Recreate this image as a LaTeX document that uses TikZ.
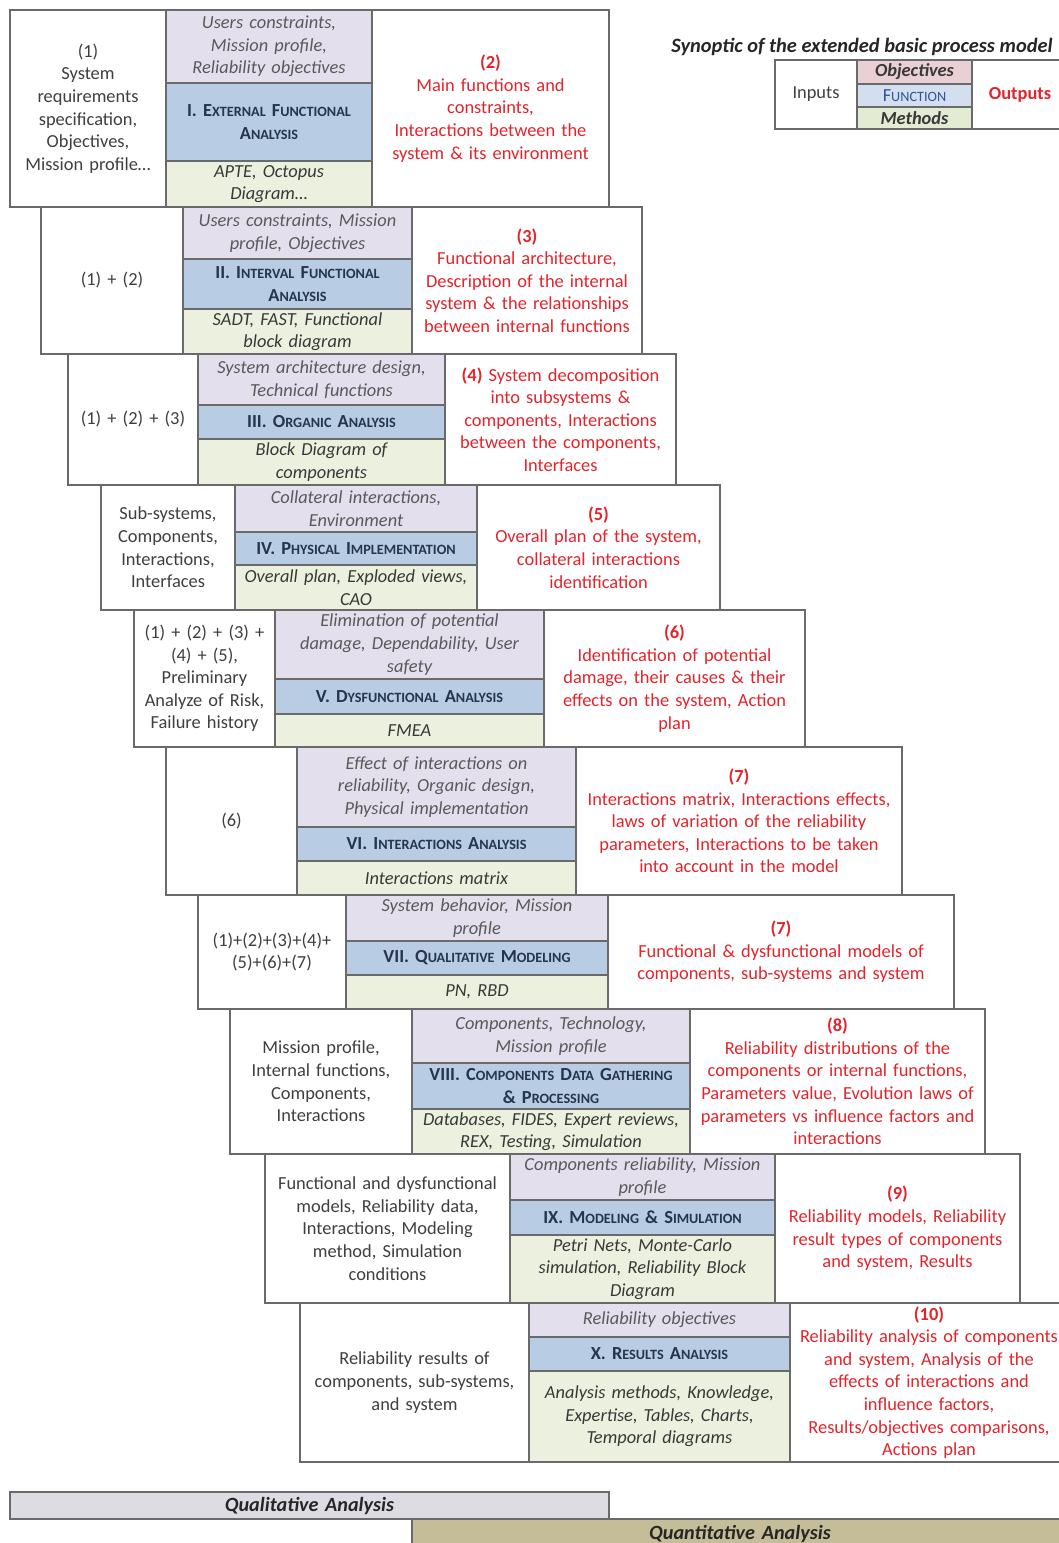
\documentclass[tikz,border=0pt]{standalone}
\usepackage{fontspec}
\setmainfont{Carlito}
\usepackage{tikz}

\definecolor{objfill}{HTML}{E4DFEC}
\definecolor{funcfill}{HTML}{B8CCE4}
\definecolor{methfill}{HTML}{EBF1DE}
\definecolor{legobjfill}{HTML}{E8D0D4}
\definecolor{legfuncfill}{HTML}{D3DFEE}
\definecolor{legmethfill}{HTML}{E3EBD3}
\definecolor{qualfill}{HTML}{DCDCE2}
\definecolor{quantfill}{HTML}{C4BD97}
\definecolor{gridgrey}{HTML}{6A6A6A}
\definecolor{ingrey}{HTML}{3F3F3F}
\definecolor{objgrey}{HTML}{595959}
\definecolor{methgrey}{HTML}{383838}
\definecolor{funcnavy}{HTML}{25344F}
\definecolor{legblue}{HTML}{2F5597}
\definecolor{outred}{HTML}{E3242B}

\def\px{0.5pt}
\def\thickness{0.8pt}
\def\bodysize{\fontsize{9.2}{11.3}\selectfont}
\def\sm#1{{\fontsize{7.1}{11.3}\selectfont\uppercase{#1}}}

\tikzstyle{cellbase}=[draw=gridgrey, line width=\thickness, inner sep=0pt, outer sep=0pt, align=center]
\tikzstyle{inbox}=[cellbase, fill=white, text=ingrey, font=\bodysize]
\tikzstyle{objbox}=[cellbase, fill=objfill, text=objgrey, font=\bodysize\itshape]
\tikzstyle{funcbox}=[cellbase, fill=funcfill, text=funcnavy, font=\bodysize\bfseries]
\tikzstyle{methbox}=[cellbase, fill=methfill, text=methgrey, font=\bodysize\itshape]
\tikzstyle{outbox}=[cellbase, fill=white, text=outred, font=\bodysize]
\tikzstyle{legobj}=[cellbase, fill=legobjfill, text=methgrey, font=\bodysize\bfseries\itshape]
\tikzstyle{legfunc}=[cellbase, fill=legfuncfill, text=legblue, font=\bodysize]
\tikzstyle{legmeth}=[cellbase, fill=legmethfill, text=methgrey, font=\bodysize\bfseries\itshape]
\tikzstyle{legout}=[cellbase, fill=white, text=outred, font=\bodysize\bfseries]
\tikzstyle{qualbar}=[cellbase, fill=qualfill, text=black!85, font=\fontsize{10.1}{12}\selectfont\bfseries\itshape]
\tikzstyle{quantbar}=[cellbase, fill=quantfill, text=black!85, font=\fontsize{10.1}{12}\selectfont\bfseries\itshape]
\tikzstyle{titletext}=[inner sep=0pt, text=black!85, font=\fontsize{10.2}{12}\selectfont\bfseries\itshape]

\newcommand{\cellnode}[7]{%
  \node[#1, minimum width={(#5-#3)*\px}, minimum height={(#6-#4)*\px},
    text width={(#5-#3)*\px}] (#2) at ({(#3+#5)/2},{(#4+#6)/2}) {#7};}

\begin{document}
\begin{tikzpicture}[x=\px, y=-\px]
\useasboundingbox (0,0) rectangle (1059,1543);
\clip (0,0) rectangle (1059,1543);

\cellnode{inbox}{in1}{10}{10}{166}{207}{(1)\\ System\\ requirements\\ specification,\\ Objectives,\\ Mission profile…}
\cellnode{objbox}{obj1}{166}{10}{372}{83}{Users constraints,\\ Mission profile,\\ Reliability objectives}
\cellnode{funcbox}{func1}{166}{83}{372}{161}{I. E\sm{xternal} F\sm{unctional}\\ A\sm{nalysis}}
\cellnode{methbox}{meth1}{166}{161}{372}{207}{APTE, Octopus\\ Diagram…}
\cellnode{outbox}{out1}{372}{10}{609}{207}{\textbf{(2)}\\ Main functions and\\ constraints,\\ Interactions between the\\ system \& its environment}

\cellnode{inbox}{in2}{41}{207}{183}{354}{(1) + (2)}
\cellnode{objbox}{obj2}{183}{207}{412}{259}{Users constraints, Mission\\ profile, Objectives}
\cellnode{funcbox}{func2}{183}{259}{412}{309}{II. I\sm{nterval} F\sm{unctional}\\ A\sm{nalysis}}
\cellnode{methbox}{meth2}{183}{309}{412}{354}{SADT, FAST, Functional\\ block diagram}
\cellnode{outbox}{out2}{412}{207}{642}{354}{\textbf{(3)}\\ Functional architecture,\\ Description of the internal\\ system \& the relationships\\ between internal functions}

\cellnode{inbox}{in3}{68}{354}{198}{485}{(1) + (2) + (3)}
\cellnode{objbox}{obj3}{198}{354}{445}{405}{System architecture design,\\ Technical functions}
\cellnode{funcbox}{func3}{198}{405}{445}{439}{III. O\sm{rganic} A\sm{nalysis}}
\cellnode{methbox}{meth3}{198}{439}{445}{485}{Block Diagram of\\ components}
\cellnode{outbox}{out3}{445}{354}{676}{485}{\textbf{(4)} System decomposition\\ into subsystems \&\\ components, Interactions\\ between the components,\\ Interfaces}

\cellnode{inbox}{in4}{101}{485}{235}{610}{Sub-systems,\\ Components,\\ Interactions,\\ Interfaces}
\cellnode{objbox}{obj4}{235}{485}{477}{532}{Collateral interactions,\\ Environment}
\cellnode{funcbox}{func4}{235}{532}{477}{565}{IV. P\sm{hysical} I\sm{mplementation}}
\cellnode{methbox}{meth4}{235}{565}{477}{610}{Overall plan, Exploded views,\\ CAO}
\cellnode{outbox}{out4}{477}{485}{720}{610}{\textbf{(5)}\\ Overall plan of the system,\\ collateral interactions\\ identification}

\cellnode{inbox}{in5}{134}{610}{275}{747}{(1) + (2) + (3) +\\ (4) + (5),\\ Preliminary\\ Analyze of Risk,\\ Failure history}
\cellnode{objbox}{obj5}{275}{610}{544}{679}{Elimination of potential\\ damage, Dependability, User\\ safety}
\cellnode{funcbox}{func5}{275}{679}{544}{714}{V. D\sm{ysfunctional} A\sm{nalysis}}
\cellnode{methbox}{meth5}{275}{714}{544}{747}{FMEA}
\cellnode{outbox}{out5}{544}{610}{805}{747}{\textbf{(6)}\\ Identification of potential\\ damage, their causes \& their\\ effects on the system, Action\\ plan}

\cellnode{inbox}{in6}{166}{747}{297}{895}{(6)}
\cellnode{objbox}{obj6}{297}{747}{576}{827}{Effect of interactions on\\ reliability, Organic design,\\ Physical implementation}
\cellnode{funcbox}{func6}{297}{827}{576}{861}{VI. I\sm{nteractions} A\sm{nalysis}}
\cellnode{methbox}{meth6}{297}{861}{576}{895}{Interactions matrix}
\cellnode{outbox}{out6}{576}{747}{902}{895}{\textbf{(7)}\\ Interactions matrix, Interactions effects,\\ laws of variation of the reliability\\ parameters, Interactions to be taken\\ into account in the model}

\cellnode{inbox}{in7}{198}{895}{346}{1009}{(1)+(2)+(3)+(4)+\\ (5)+(6)+(7)}
\cellnode{objbox}{obj7}{346}{895}{608}{941}{System behavior, Mission\\ profile}
\cellnode{funcbox}{func7}{346}{941}{608}{975}{VII. Q\sm{ualitative} M\sm{odeling}}
\cellnode{methbox}{meth7}{346}{975}{608}{1009}{PN, RBD}
\cellnode{outbox}{out7}{608}{895}{954}{1009}{\textbf{(7)}\\ Functional \& dysfunctional models of\\ components, sub-systems and system}

\cellnode{inbox}{in8}{230}{1009}{412}{1154}{Mission profile,\\ Internal functions,\\ Components,\\ Interactions}
\cellnode{objbox}{obj8}{412}{1009}{690}{1063}{Components, Technology,\\ Mission profile}
\cellnode{funcbox}{func8}{412}{1063}{690}{1109}{VIII. C\sm{omponents} D\sm{ata} G\sm{athering}\\ \& P\sm{rocessing}}
\cellnode{methbox}{meth8}{412}{1109}{690}{1154}{Databases, FIDES, Expert reviews,\\ REX, Testing, Simulation}
\cellnode{outbox}{out8}{690}{1009}{985}{1154}{\textbf{(8)}\\ Reliability distributions of the\\ components or internal functions,\\ Parameters value, Evolution laws of\\ parameters vs influence factors and\\ interactions}

\cellnode{inbox}{in9}{265}{1154}{510}{1303}{Functional and dysfunctional\\ models, Reliability data,\\ Interactions, Modeling\\ method, Simulation\\ conditions}
\cellnode{objbox}{obj9}{510}{1154}{775}{1200}{Components reliability, Mission\\ profile}
\cellnode{funcbox}{func9}{510}{1200}{775}{1235}{IX. M\sm{odeling} \& S\sm{imulation}}
\cellnode{methbox}{meth9}{510}{1235}{775}{1303}{Petri Nets, Monte-Carlo\\ simulation, Reliability Block\\ Diagram}
\cellnode{outbox}{out9}{775}{1154}{1020}{1303}{\textbf{(9)}\\ Reliability models, Reliability\\ result types of components\\ and system, Results}

\cellnode{inbox}{in10}{300}{1303}{529}{1462}{Reliability results of\\ components, sub-systems,\\ and system}
\cellnode{objbox}{obj10}{529}{1303}{790}{1337}{Reliability objectives}
\cellnode{funcbox}{func10}{529}{1337}{790}{1371}{X. R\sm{esults} A\sm{nalysis}}
\cellnode{methbox}{meth10}{529}{1371}{790}{1462}{Analysis methods, Knowledge,\\ Expertise, Tables, Charts,\\ Temporal diagrams}
\cellnode{outbox}{out10}{790}{1303}{1068}{1462}{\textbf{(10)}\\ Reliability analysis of components\\ and system, Analysis of the\\ effects of interactions and\\ influence factors,\\ Results/objectives comparisons,\\ Actions plan}

\node[titletext] (title) at (862,47) {Synoptic of the extended basic process model};
\cellnode{inbox}{legin}{775}{60}{857}{129}{Inputs}
\cellnode{legobj}{legobj}{857}{60}{972}{84}{Objectives}
\cellnode{legfunc}{legfunc}{857}{84}{972}{107}{F\sm{unction}}
\cellnode{legmeth}{legmeth}{857}{107}{972}{129}{Methods}
\cellnode{legout}{legout}{972}{60}{1068}{129}{Outputs}

\cellnode{quantbar}{quant}{412}{1519}{1068}{1548}{Quantitative Analysis}
\cellnode{qualbar}{qual}{10}{1492}{609}{1519}{Qualitative Analysis}
\end{tikzpicture}
\end{document}
